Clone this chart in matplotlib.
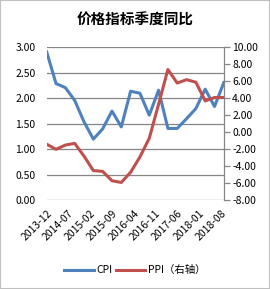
import matplotlib
matplotlib.use("Agg")
import matplotlib.pyplot as plt
import numpy as np
import pandas as pd

plt.rcParams['font.family'] = ['Noto Sans CJK SC', 'DejaVu Sans']
plt.rcParams['axes.unicode_minus'] = False

# quarterly data, 2013-12 .. 2018-09
dates = pd.date_range("2013-12-01", "2018-09-01", freq="3MS")
cpi = [2.91, 2.29, 2.21, 1.96, 1.54, 1.20, 1.40, 1.75, 1.44, 2.14,
       2.10, 1.67, 2.16, 1.41, 1.41, 1.60, 1.80, 2.18, 1.84, 2.31]
ppi = [-1.4, -2.0, -1.5, -1.3, -2.8, -4.5, -4.6, -5.7, -5.9, -4.7,
       -2.9, -0.7, 3.3, 7.4, 5.8, 6.2, 5.9, 3.7, 4.1, 4.1]
tick_labels = ["2013-12", "2014-07", "2015-02", "2015-09", "2016-04",
               "2016-11", "2017-06", "2018-01", "2018-08"]

# month offsets from the first date (Excel style date axis)
x = (dates.year - dates[0].year) * 12 + (dates.month - dates[0].month)
tick_x = [(int(t[:4]) - 2013) * 12 + int(t[5:]) - 12 for t in tick_labels]

blue = '#4F81BD'
red = '#C0504D'
grid_c = '#868686'
fs = 7.5

fig = plt.figure(figsize=(2.7, 2.89), dpi=100)
fig.patches.append(plt.Rectangle((0, 0), 1, 1, transform=fig.transFigure,
                                 fill=False, edgecolor='#bfbfbf', linewidth=1.5))
ax = fig.add_axes([0.173, 0.307, 0.656, 0.529])
ax2 = ax.twinx()

l1, = ax.plot(x, cpi, color=blue, linewidth=2.2, solid_joinstyle='round', zorder=3)
l2, = ax2.plot(x, ppi, color=red, linewidth=2.2, solid_joinstyle='round', zorder=3)

ax.set_xlim(x[0], x[-1])
ax.set_ylim(0, 3)
ax.set_yticks(np.arange(0, 3.01, 0.5))
ax.set_yticklabels([f"{v:.2f}" for v in np.arange(0, 3.01, 0.5)], fontsize=fs)
ax2.set_ylim(-8, 10)
ax2.set_yticks(np.arange(-8, 10.01, 2))
ax2.set_yticklabels([f"{v:.2f}" for v in np.arange(-8, 10.01, 2)], fontsize=fs)

ax.grid(axis='y', color=grid_c, linewidth=0.9)
ax.set_axisbelow(True)
for s in ['top', 'left', 'right', 'bottom']:
    ax.spines[s].set_visible(False)
for s in ['top', 'left', 'bottom']:
    ax2.spines[s].set_visible(False)
ax2.spines['right'].set_color(grid_c)
ax2.spines['right'].set_linewidth(0.9)
ax.tick_params(axis='y', length=0, pad=8)
ax2.tick_params(axis='y', length=4, width=0.9, color=grid_c, pad=2)

ax.set_xticks(tick_x)
ax.set_xticklabels(tick_labels, rotation=45, ha='right', rotation_mode='anchor',
                   fontsize=fs)
ax.tick_params(axis='x', length=0, pad=6)

fig.text(0.5, 0.933, "价格指标季度同比", ha='center', va='center',
         fontsize=10.5, fontweight='bold')

fig.legend([l1, l2], ["CPI", "PPI（右轴）"], loc='center', bbox_to_anchor=(0.5, 0.065),
           ncol=2, frameon=False, fontsize=fs, handlelength=2.8,
           handletextpad=0.3, columnspacing=0.3)

fig.savefig("out.png", dpi=100)
